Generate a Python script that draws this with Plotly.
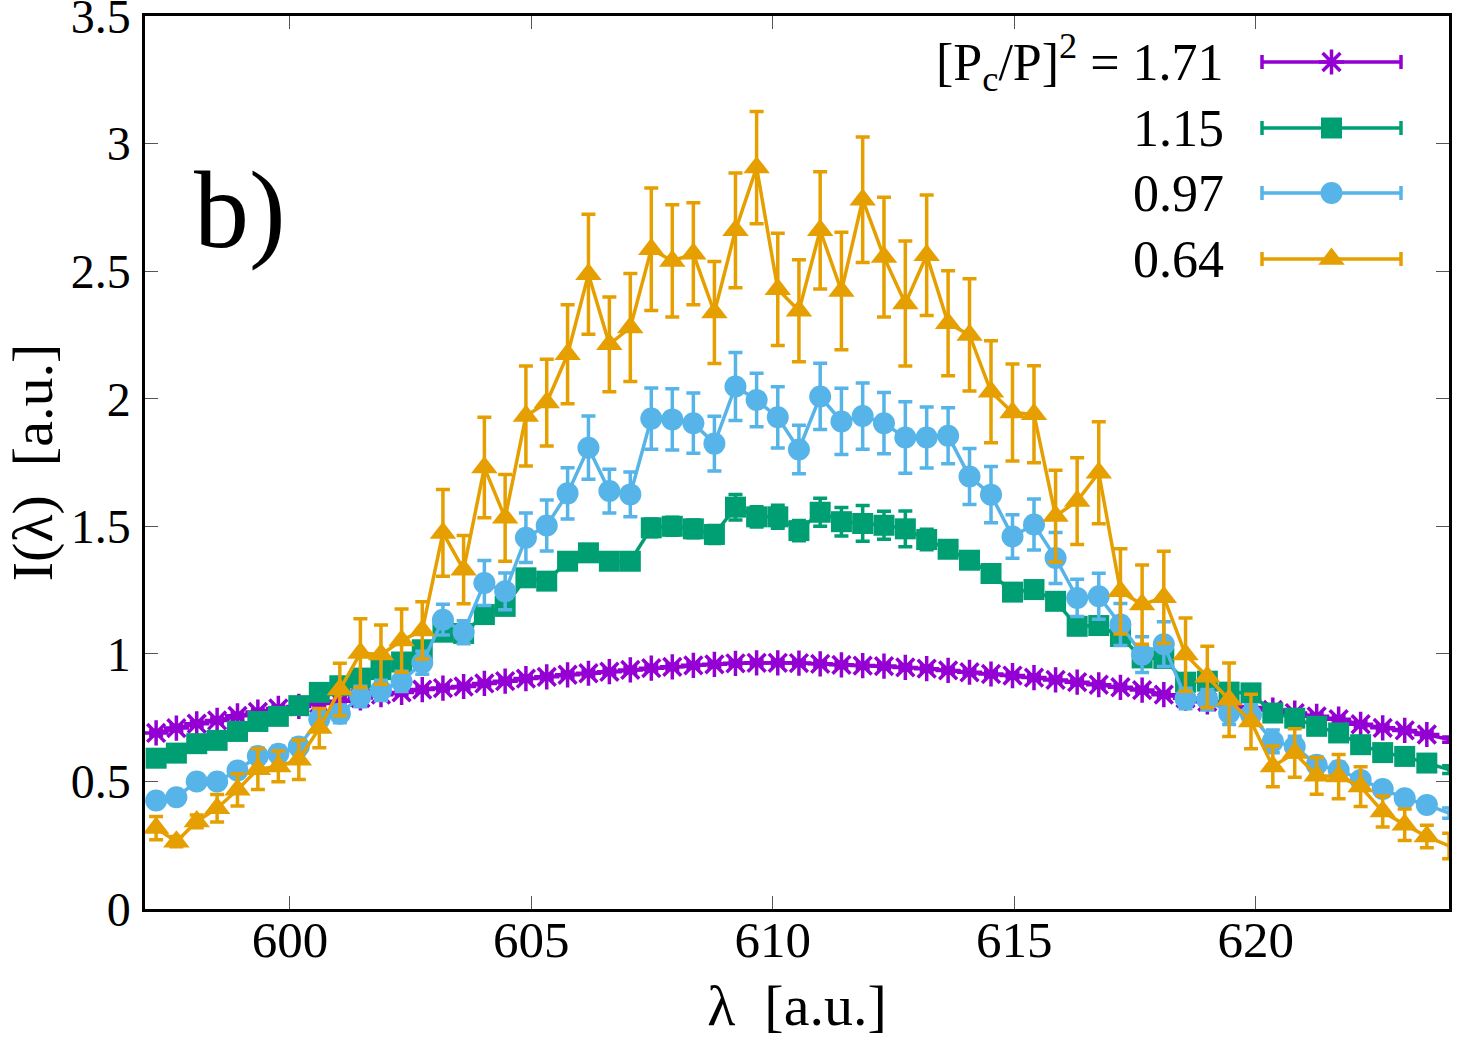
import plotly.graph_objects as go

# wavelength samples
lam = [597.230, 597.650, 598.071, 598.493, 598.915, 599.337, 599.761, 600.185, 600.609, 601.034,
       601.460, 601.886, 602.313, 602.741, 603.169, 603.597, 604.027, 604.457, 604.887, 605.318,
       605.750, 606.182, 606.615, 607.049, 607.483, 607.918, 608.354, 608.790, 609.226, 609.664,
       610.102, 610.540, 610.980, 611.420, 611.860, 612.301, 612.743, 613.185, 613.629, 614.072,
       614.517, 614.962, 615.407, 615.854, 616.301, 616.748, 617.197, 617.646, 618.095, 618.545,
       618.996, 619.447, 619.900, 620.352, 620.806, 621.260, 621.715, 622.170, 622.627, 623.083,
       623.541, 624.002]

# [Pc/P]^2 = 1.71
I_171 = [0.690, 0.709, 0.726, 0.739, 0.757, 0.772, 0.786, 0.794, 0.805, 0.814,
         0.827, 0.840, 0.849, 0.860, 0.866, 0.872, 0.884, 0.893, 0.903, 0.910,
         0.918, 0.924, 0.930, 0.937, 0.944, 0.949, 0.955, 0.959, 0.963, 0.965,
         0.965, 0.964, 0.961, 0.957, 0.954, 0.952, 0.947, 0.942, 0.935, 0.928,
         0.921, 0.915, 0.907, 0.898, 0.889, 0.879, 0.869, 0.858, 0.840, 0.826,
         0.812, 0.800, 0.790, 0.780, 0.768, 0.755, 0.744, 0.724, 0.710, 0.700,
         0.684, 0.664]
E_171 = [0.01] * 62

# 1.15
I_115 = [0.591, 0.611, 0.648, 0.661, 0.696, 0.735, 0.755, 0.797, 0.849, 0.875,
         0.905, 0.938, 0.968, 1.016, 1.085, 1.080, 1.154, 1.186, 1.298, 1.285,
         1.363, 1.396, 1.363, 1.363, 1.494, 1.500, 1.490, 1.468, 1.575, 1.537,
         1.537, 1.483, 1.555, 1.518, 1.511, 1.504, 1.490, 1.448, 1.410, 1.367,
         1.315, 1.242, 1.252, 1.206, 1.108, 1.111, 1.068, 0.984, 0.982, 0.889,
         0.893, 0.850, 0.847, 0.768, 0.748, 0.716, 0.690, 0.644, 0.613, 0.598,
         0.572, 0.546]
E_115 = [0.015, 0.015, 0.015, 0.015, 0.015, 0.015, 0.015, 0.02, 0.02, 0.02,
         0.02, 0.02, 0.025, 0.025, 0.025, 0.025, 0.03, 0.03, 0.03, 0.03,
         0.03, 0.03, 0.03, 0.03, 0.035, 0.035, 0.035, 0.035, 0.05, 0.04,
         0.045, 0.04, 0.055, 0.056, 0.07, 0.055, 0.07, 0.04, 0.03, 0.03,
         0.03, 0.03, 0.03, 0.03, 0.03, 0.03, 0.03, 0.03, 0.03, 0.03,
         0.02, 0.02, 0.02, 0.02, 0.02, 0.02, 0.02, 0.015, 0.015, 0.015,
         0.015, 0.015]

# 0.97
I_097 = [0.425, 0.438, 0.500, 0.500, 0.543, 0.600, 0.608, 0.637, 0.744, 0.765,
         0.833, 0.857, 0.892, 0.965, 1.134, 1.085, 1.278, 1.245, 1.455, 1.503,
         1.629, 1.808, 1.638, 1.625, 1.922, 1.919, 1.904, 1.824, 2.048, 1.995,
         1.927, 1.801, 2.009, 1.911, 1.932, 1.904, 1.848, 1.848, 1.855, 1.695,
         1.624, 1.460, 1.507, 1.376, 1.219, 1.226, 1.115, 0.997, 1.038, 0.825,
         0.820, 0.768, 0.761, 0.657, 0.637, 0.565, 0.545, 0.506, 0.470, 0.434,
         0.408, 0.376]
E_097 = [0.02, 0.02, 0.025, 0.025, 0.025, 0.03, 0.03, 0.03, 0.035, 0.035,
         0.04, 0.04, 0.04, 0.045, 0.06, 0.045, 0.088, 0.072, 0.097, 0.10,
         0.10, 0.124, 0.086, 0.088, 0.12, 0.12, 0.118, 0.107, 0.133, 0.105,
         0.12, 0.095, 0.13, 0.13, 0.13, 0.12, 0.14, 0.12, 0.11, 0.11,
         0.11, 0.085, 0.10, 0.10, 0.073, 0.09, 0.082, 0.07, 0.088, 0.04,
         0.04, 0.045, 0.04, 0.045, 0.04, 0.03, 0.03, 0.02, 0.02, 0.02,
         0.02, 0.02]

# 0.64
I_064 = [0.317, 0.264, 0.343, 0.395, 0.467, 0.548, 0.559, 0.585, 0.709, 0.860,
         1.003, 0.997, 1.052, 1.092, 1.474, 1.330, 1.730, 1.533, 1.932, 1.985,
         2.174, 2.488, 2.213, 2.279, 2.586, 2.540, 2.568, 2.338, 2.660, 2.906,
         2.429, 2.345, 2.660, 2.422, 2.780, 2.555, 2.373, 2.562, 2.296, 2.250,
         2.027, 1.946, 1.939, 1.540, 1.599, 1.710, 1.245, 1.193, 1.222, 0.997,
         0.910, 0.820, 0.735, 0.559, 0.611, 0.522, 0.519, 0.480, 0.382, 0.330,
         0.284, 0.247]
E_064 = [0.046, 0.02, 0.025, 0.054, 0.063, 0.08, 0.06, 0.077, 0.077, 0.103,
         0.135, 0.116, 0.124, 0.112, 0.17, 0.134, 0.197, 0.17, 0.196, 0.17,
         0.194, 0.235, 0.186, 0.212, 0.24, 0.22, 0.20, 0.20, 0.225, 0.22,
         0.22, 0.20, 0.23, 0.23, 0.246, 0.235, 0.245, 0.236, 0.206, 0.22,
         0.20, 0.19, 0.19, 0.18, 0.17, 0.20, 0.167, 0.155, 0.18, 0.144,
         0.12, 0.144, 0.107, 0.08, 0.095, 0.072, 0.087, 0.078, 0.061, 0.062,
         0.044, 0.05]

labels = ["[P<sub>c</sub>/P]<sup>2</sup> = 1.71", "1.15", "0.97", "0.64"]
colors = ["#9400d3", "#009e73", "#56b4e9", "#e69f00"]
symbols = ["asterisk-open", "square", "circle", "triangle-up"]
sizes = [21, 21, 22, 23]
series = [(I_171, E_171), (I_115, E_115), (I_097, E_097), (I_064, E_064)]

FONT = "Liberation Serif, Times New Roman, serif"

fig = go.Figure()
for (yv, ev), c, s, sz in zip(series, colors, symbols, sizes):
    mk = dict(symbol=s, size=sz, color=c)
    if s == "asterisk-open":
        mk["line"] = dict(color=c, width=3.5)
    else:
        mk["line"] = dict(width=0)
    fig.add_trace(go.Scatter(
        x=lam, y=yv, mode="lines+markers",
        line=dict(color=c, width=3.5),
        marker=mk,
        error_y=dict(type="data", array=ev, visible=True, color=c, thickness=3.5, width=7),
        cliponaxis=False, showlegend=False))

# custom legend (text on the left, sample on the right), in pixel-like overlay coordinates
rows_y = [62, 128, 193, 259]
for i, (lab, c, s, sz) in enumerate(zip(labels, colors, symbols, sizes)):
    mk = dict(symbol=s, size=sz, color=c)
    mk["line"] = dict(color=c, width=3.5) if s == "asterisk-open" else dict(width=0)
    fig.add_trace(go.Scatter(
        x=[1331.5], y=[rows_y[i]], xaxis="x2", yaxis="y2", mode="markers",
        marker=mk,
        error_x=dict(type="constant", value=69.5, visible=True, color=c, thickness=3.5, width=7),
        showlegend=False, cliponaxis=False, hoverinfo="skip"))
    fig.add_annotation(x=1226, y=rows_y[i], xref="x2", yref="y2", text=lab,
                       showarrow=False, xanchor="right", yanchor="middle",
                       font=dict(family=FONT, size=52, color="black"))

fig.add_annotation(x=240, y=210, xref="x2", yref="y2", text="b)", showarrow=False,
                   xanchor="center", yanchor="middle",
                   font=dict(family=FONT, size=110, color="black"))

axis_common = dict(showline=True, linewidth=2.5, linecolor="black", mirror="ticks",
                   ticks="inside", ticklen=13, tickwidth=1.2, tickcolor="#555555",
                   showgrid=False, zeroline=False, ticklabeloverflow="allow", automargin=False)

fig.update_layout(
    width=1463, height=1042,
    margin=dict(l=145, r=14, t=16, b=133),
    paper_bgcolor="white", plot_bgcolor="white",
    xaxis=dict(range=[597, 624], tickvals=[600, 605, 610, 615, 620],
               tickfont=dict(family=FONT, size=51, color="black"), ticklabelstandoff=-16,
               title=dict(text="λ  [a.u.]", font=dict(family=FONT, size=58, color="black"), standoff=18),
               **axis_common),
    yaxis=dict(range=[0, 3.5], tickvals=[0, 0.5, 1, 1.5, 2, 2.5, 3, 3.5],
               ticktext=["0", "0.5", "1", "1.5", "2", "2.5", "3", "3.5"],
               tickfont=dict(family=FONT, size=48, color="black"), ticklabelstandoff=2,
               title=dict(text="I(λ)  [a.u.]", font=dict(family=FONT, size=58, color="black"), standoff=14),
               **axis_common),
    xaxis2=dict(overlaying="x", anchor="y2", range=[145, 1449], visible=False, fixedrange=True),
    yaxis2=dict(overlaying="y", anchor="x2", range=[909, 16], visible=False, fixedrange=True),
)

fig.write_html("out.html")
